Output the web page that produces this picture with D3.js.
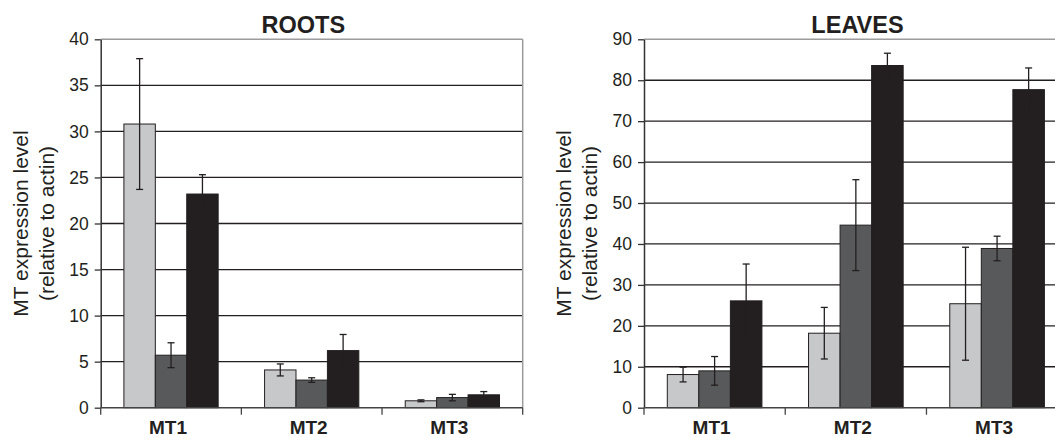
<!DOCTYPE html>
<html>
<head>
<meta charset="utf-8">
<script src="https://cdn.jsdelivr.net/npm/d3@7/dist/d3.min.js"></script>
<style>
  html, body { margin: 0; padding: 0; background: #fff; }
  svg { display: block; font-family: "Liberation Sans", Arial, sans-serif; }
</style>
</head>
<body>
<svg id="chart" width="1055" height="438"></svg>
<script>
// Categories and series
var categories = ['MT1', 'MT2', 'MT3'];
var series = ['light', 'mid', 'dark'];
var seriesColors = ['#c7c8ca', '#58595b', '#231f20'];

// Roots values and errors (per series, per category)
var rootsValues = [
  [30.8, 4.1, 0.75],
  [5.7, 3.0, 1.1],
  [23.2, 6.2, 1.4]
];
var rootsErrors = [
  [7.1, 0.65, 0.1],
  [1.35, 0.25, 0.35],
  [2.1, 1.75, 0.35]
];
var rootsTicks = [0, 5, 10, 15, 20, 25, 30, 35, 40];

// Leaves values and errors
var leavesValues = [
  [8.1, 18.2, 25.4],
  [9.0, 44.6, 38.9],
  [26.1, 83.6, 77.7]
];
var leavesErrors = [
  [1.8, 6.3, 13.8],
  [3.5, 11.1, 3.0],
  [9.0, 3.0, 5.3]
];
var leavesTicks = [0, 10, 20, 30, 40, 50, 60, 70, 80, 90];

var svg = d3.select('#chart');
var ink = '#231f20';

// Draw one panel
function drawPanel(opts) {
  var g = svg.append('g');

  var y = d3.scaleLinear()
    .domain([0, d3.max(opts.ticks)])
    .range([opts.bottom, opts.top]);

  var x = d3.scaleBand()
    .domain(categories)
    .range([opts.left, opts.right])
    .paddingInner(0.33)
    .paddingOuter(0.165);

  var xs = d3.scaleBand()
    .domain(series)
    .range([0, x.bandwidth()]);

  // Gridlines
  g.selectAll('.grid')
    .data(opts.ticks.slice(1, -1))
    .enter().append('line')
    .attr('x1', opts.left)
    .attr('x2', opts.right)
    .attr('y1', function(d) { return y(d); })
    .attr('y2', function(d) { return y(d); })
    .attr('stroke', ink)
    .attr('stroke-width', 1.3);

  // Top and right borders (grey)
  g.append('line')
    .attr('x1', opts.left).attr('x2', opts.right)
    .attr('y1', opts.top).attr('y2', opts.top)
    .attr('stroke', '#9c9c9c').attr('stroke-width', 1.5);
  g.append('line')
    .attr('x1', opts.right).attr('x2', opts.right)
    .attr('y1', opts.top).attr('y2', opts.bottom)
    .attr('stroke', '#9c9c9c').attr('stroke-width', 1.5);

  // Bars
  var bars = [];
  series.forEach(function(s, si) {
    categories.forEach(function(c, ci) {
      bars.push({ s: s, si: si, c: c, v: opts.values[si][ci], e: opts.errors[si][ci] });
    });
  });

  g.selectAll('.bar')
    .data(bars)
    .enter().append('rect')
    .attr('x', function(d) { return x(d.c) + xs(d.s); })
    .attr('width', xs.bandwidth())
    .attr('y', function(d) { return y(d.v); })
    .attr('height', function(d) { return y(0) - y(d.v); })
    .attr('fill', function(d) { return seriesColors[d.si]; })
    .attr('stroke', ink)
    .attr('stroke-width', 1);

  // Error bars
  var err = g.selectAll('.err')
    .data(bars)
    .enter().append('g')
    .attr('stroke', ink)
    .attr('stroke-width', 1.3);

  err.append('line')
    .attr('x1', function(d) { return x(d.c) + xs(d.s) + xs.bandwidth() / 2; })
    .attr('x2', function(d) { return x(d.c) + xs(d.s) + xs.bandwidth() / 2; })
    .attr('y1', function(d) { return y(d.v + d.e); })
    .attr('y2', function(d) { return y(Math.max(0, d.v - d.e)); });

  [1, -1].forEach(function(sign) {
    err.append('line')
      .attr('x1', function(d) { return x(d.c) + xs(d.s) + xs.bandwidth() / 2 - 3.5; })
      .attr('x2', function(d) { return x(d.c) + xs(d.s) + xs.bandwidth() / 2 + 3.5; })
      .attr('y1', function(d) { return y(d.v + sign * d.e); })
      .attr('y2', function(d) { return y(d.v + sign * d.e); });
  });

  // Y axis
  var yAxis = g.append('g')
    .attr('transform', 'translate(' + opts.left + ',0)')
    .call(d3.axisLeft(y).tickValues(opts.ticks).tickSize(6).tickSizeOuter(0).tickPadding(6));
  yAxis.select('.domain').attr('stroke', '#333').attr('stroke-width', 1.5);
  yAxis.selectAll('.tick line').attr('stroke', '#333').attr('stroke-width', 1.3);
  yAxis.selectAll('.tick text')
    .attr('fill', ink)
    .style('font-size', '17.5px')
    .style('font-family', '"Liberation Sans", Arial, sans-serif');

  // X axis baseline and boundary ticks
  g.append('line')
    .attr('x1', opts.left).attr('x2', opts.right)
    .attr('y1', opts.bottom).attr('y2', opts.bottom)
    .attr('stroke', '#444').attr('stroke-width', 1.5);

  var bounds = d3.range(categories.length + 1).map(function(i) {
    return opts.left + i * x.step();
  });
  g.selectAll('.xtick')
    .data(bounds)
    .enter().append('line')
    .attr('x1', function(d) { return d; })
    .attr('x2', function(d) { return d; })
    .attr('y1', opts.bottom)
    .attr('y2', opts.bottom + 7)
    .attr('stroke', '#444')
    .attr('stroke-width', 1.3);

  // Category labels
  g.selectAll('.cat')
    .data(categories)
    .enter().append('text')
    .attr('x', function(d) { return x(d) + x.bandwidth() / 2 - 3; })
    .attr('y', 433.5)
    .attr('text-anchor', 'middle')
    .attr('fill', ink)
    .style('font-size', '19px')
    .style('font-weight', 'bold')
    .text(function(d) { return d; });

  // Title
  g.append('text')
    .attr('x', opts.titleX)
    .attr('y', 33)
    .attr('text-anchor', 'middle')
    .attr('fill', ink)
    .style('font-size', '23.5px')
    .style('font-weight', 'bold')
    .text(opts.title);

  // Y label, two lines
  var yl = g.append('text')
    .attr('transform', 'translate(' + (opts.left - 72.7) + ',' + ((opts.top + opts.bottom) / 2) + ') rotate(-90)')
    .attr('text-anchor', 'middle')
    .attr('fill', ink)
    .style('font-size', '21px');
  yl.append('tspan').attr('x', 0).attr('dy', 0).text('MT expression level');
  yl.append('tspan').attr('x', 0).attr('dy', 25.5).text('(relative to actin)');
}

drawPanel({
  title: 'ROOTS', titleX: 303.3,
  left: 100.7, right: 522.7, top: 39.3, bottom: 407.7,
  ticks: rootsTicks, values: rootsValues, errors: rootsErrors
});

drawPanel({
  title: 'LEAVES', titleX: 857.5,
  left: 644, right: 1067.7, top: 39.3, bottom: 407.7,
  ticks: leavesTicks, values: leavesValues, errors: leavesErrors
});
</script>
</body>
</html>
